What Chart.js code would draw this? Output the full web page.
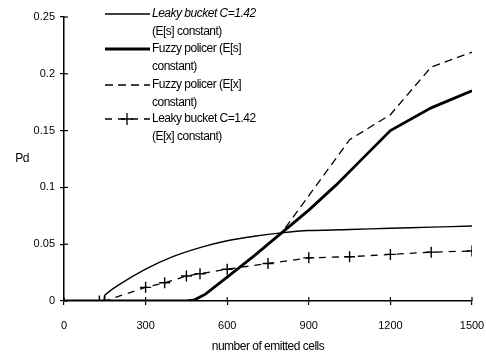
<!DOCTYPE html>
<html>
<head>
<meta charset="utf-8">
<script src="https://cdn.jsdelivr.net/npm/chart.js@4.4.1/dist/chart.umd.min.js"></script>
<style>
  html, body { margin: 0; padding: 0; background: #fff; }
  #wrap { width: 486px; height: 358px; }
</style>
</head>
<body>
<div id="wrap"><canvas id="chart" width="486" height="358"></canvas></div>
<script>
// data
const xTicks = [0, 300, 600, 900, 1200, 1500];
const xTickLabels = ['0', '300', '600', '900', '1200', '1500'];
const yTicks = [0, 0.05, 0.1, 0.15, 0.2, 0.25];
const yTickLabels = ['0', '0.05', '0.1', '0.15', '0.2', '0.25'];

const leakySX = [0, 145, 150, 200, 300, 400, 500, 600, 700, 800, 900, 1050, 1200, 1350, 1500];
const leakySY = [0, 0, 0.005, 0.014, 0.028, 0.039, 0.047, 0.053, 0.057, 0.060, 0.062, 0.063, 0.064, 0.065, 0.066];

const fuzzySX = [0, 450, 480, 520, 600, 700, 800, 900, 1000, 1100, 1200, 1350, 1500];
const fuzzySY = [0, 0, 0.001, 0.006, 0.021, 0.040, 0.060, 0.080, 0.102, 0.126, 0.150, 0.170, 0.185];

const fuzzyXX = [0, 450, 480, 520, 600, 700, 800, 1050, 1200, 1350, 1500];
const fuzzyXY = [0, 0, 0.001, 0.006, 0.021, 0.040, 0.060, 0.142, 0.164, 0.206, 0.219];

const leakyXX = [0, 130, 150, 300, 370, 450, 500, 600, 750, 900, 1050, 1200, 1350, 1500];
const leakyXY = [0, 0, 0, 0.012, 0.016, 0.022, 0.024, 0.028, 0.033, 0.038, 0.039, 0.041, 0.043, 0.044];

const legendLabels = [
    ['Leaky bucket C=1.42', '(E[s] constant)'],
    ['Fuzzy policer (E[s]', 'constant)'],
    ['Fuzzy policer (E[x]', 'constant)'],
    ['Leaky bucket C=1.42', '(E[x] constant)']
];

const FONT = "'Liberation Sans', Arial, sans-serif";

function pts(xs, ys) {
    return xs.map((x, i) => ({ x: x, y: ys[i] }));
}

// tick marks that cross the axis lines, legend and axis titles
const extrasPlugin = {
    id: 'extras',
    afterDraw(chart) {
        const ctx = chart.ctx;
        const xs = chart.scales.x, ys = chart.scales.y;
        const area = chart.chartArea;
        ctx.save();
        ctx.strokeStyle = '#000';
        ctx.lineWidth = 1.2;
        xTicks.forEach(v => {
            const px = xs.getPixelForValue(v);
            ctx.beginPath();
            ctx.moveTo(px, area.bottom - 4);
            ctx.lineTo(px, area.bottom);
            ctx.stroke();
        });
        yTicks.forEach(v => {
            const py = ys.getPixelForValue(v);
            ctx.beginPath();
            ctx.moveTo(area.left, py);
            ctx.lineTo(area.left + 4, py);
            ctx.stroke();
        });

        // axis titles
        ctx.fillStyle = '#000';
        ctx.letterSpacing = '-0.5px';
        ctx.font = '12px ' + FONT;
        ctx.textAlign = 'center';
        ctx.textBaseline = 'middle';
        ctx.fillText('Pd', 22, ys.getPixelForValue(0.125));
        ctx.fillText('number of emitted cells', 268, 347);

        // legend
        const rows = [14, 49, 85, 119];
        chart.data.datasets.forEach((ds, i) => {
            const y = rows[i];
            ctx.strokeStyle = '#000';
            ctx.lineWidth = ds.borderWidth;
            ctx.setLineDash(ds.borderDash || []);
            ctx.beginPath();
            ctx.moveTo(105, y);
            ctx.lineTo(150, y);
            ctx.stroke();
            ctx.setLineDash([]);
            if (ds.pointStyle === 'cross') {
                ctx.lineWidth = 1.3;
                ctx.beginPath();
                ctx.moveTo(127, y - 6); ctx.lineTo(127, y + 6);
                ctx.moveTo(121, y); ctx.lineTo(133, y);
                ctx.stroke();
            }
            ctx.textAlign = 'left';
            ctx.font = (i === 0 ? 'italic ' : '') + '12px ' + FONT;
            ctx.fillText(legendLabels[i][0], 152, y);
            ctx.font = '12px ' + FONT;
            ctx.fillText(legendLabels[i][1], 152, y + 18);
        });
        ctx.restore();
    }
};

new Chart(document.getElementById('chart'), {
    type: 'line',
    data: {
        datasets: [{
            label: 'Leaky bucket C=1.42 (E[s] constant)',
            data: pts(leakySX, leakySY),
            borderColor: '#000',
            borderWidth: 1.4,
            pointRadius: 0,
            tension: 0.2
        }, {
            label: 'Fuzzy policer (E[s] constant)',
            data: pts(fuzzySX, fuzzySY),
            borderColor: '#000',
            borderWidth: 2.8,
            pointRadius: 0,
            tension: 0
        }, {
            label: 'Fuzzy policer (E[x] constant)',
            data: pts(fuzzyXX, fuzzyXY),
            borderColor: '#000',
            borderWidth: 1.3,
            borderDash: [8, 5],
            pointRadius: 0,
            tension: 0
        }, {
            label: 'Leaky bucket C=1.42 (E[x] constant)',
            data: pts(leakyXX, leakyXY),
            borderColor: '#000',
            borderWidth: 1.3,
            borderDash: [7, 6],
            pointStyle: 'cross',
            pointRadius: ctx => (ctx.raw && ctx.raw.x === 0 ? 0 : 5.5),
            pointBorderColor: '#000',
            pointBorderWidth: 1.4,
            tension: 0
        }]
    },
    options: {
        responsive: false,
        animation: false,
        devicePixelRatio: 1,
        layout: { padding: { top: 17, right: 14, left: 0, bottom: 0 } },
        plugins: {
            legend: { display: false },
            tooltip: { enabled: false }
        },
        scales: {
            x: {
                type: 'linear',
                min: 0,
                max: 1500,
                afterBuildTicks: s => { s.ticks = xTicks.map(v => ({ value: v })); },
                afterFit: s => { s.height = 57; s.paddingRight = 0; s.paddingLeft = 0; },
                grid: { drawOnChartArea: false, tickLength: 4, color: '#000', lineWidth: 1.2 },
                border: { color: '#000', width: 1.5 },
                ticks: {
                    color: '#000',
                    padding: 14,
                    maxRotation: 0,
                    font: { family: FONT, size: 11 },
                    callback: (v, i) => xTickLabels[i]
                }
            },
            y: {
                type: 'linear',
                min: 0,
                max: 0.25,
                afterBuildTicks: s => { s.ticks = yTicks.map(v => ({ value: v })); },
                afterFit: s => { s.width = 64; },
                grid: { drawOnChartArea: false, tickLength: 4, color: '#000', lineWidth: 1.2 },
                border: { color: '#000', width: 1.5 },
                ticks: {
                    color: '#000',
                    padding: 5,
                    font: { family: FONT, size: 11 },
                    callback: (v, i) => yTickLabels[i]
                }
            }
        }
    },
    plugins: [extrasPlugin]
});
</script>
</body>
</html>
